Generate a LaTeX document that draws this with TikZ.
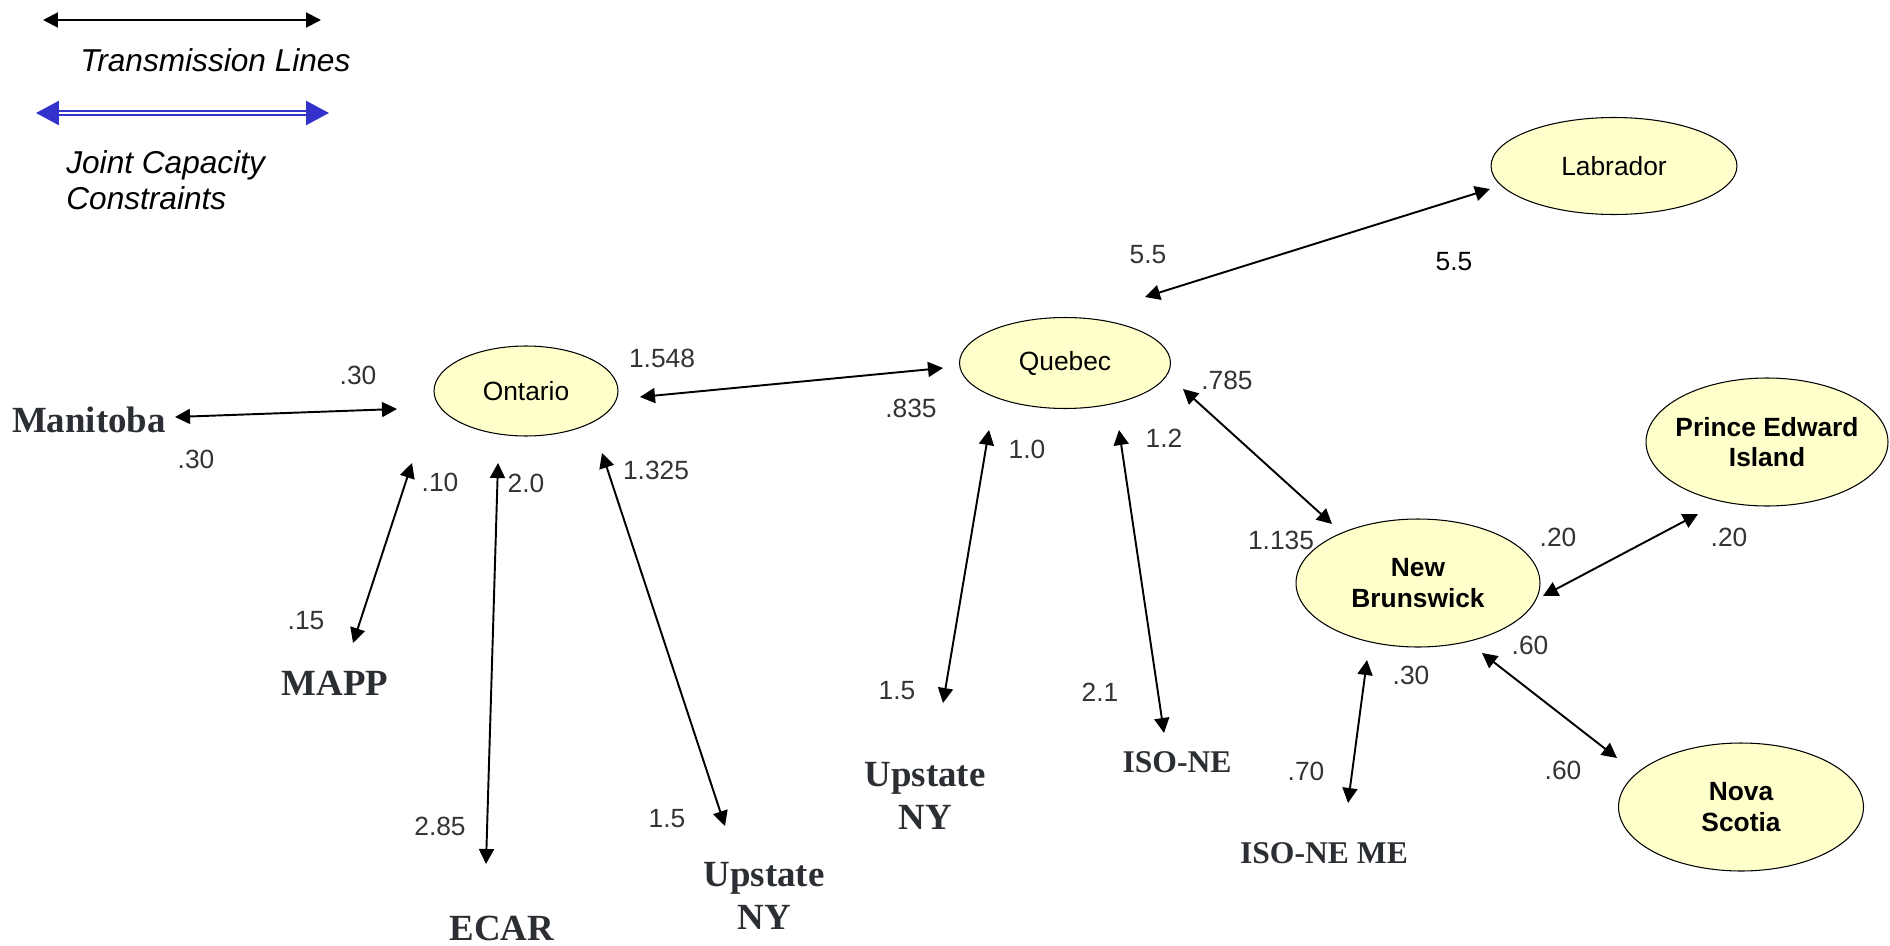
\documentclass[tikz,border=0pt]{standalone}
\usepackage{fontspec}
\setmainfont{Liberation Sans}
\newfontfamily\placefont{Liberation Serif}
\usetikzlibrary{arrows.meta,calc,shapes.geometric}
\definecolor{nodefill}{HTML}{FFFFCC}
\definecolor{numgray}{HTML}{333333}
\definecolor{placegray}{HTML}{2B2F33}
\definecolor{jointblue}{HTML}{3333CC}
\tikzset{
  region/.style={ellipse, draw=black, line width=0.6pt, fill=nodefill, inner sep=0pt,
    align=center, font=\fontsize{15}{17.5}\selectfont},
  num/.style={inner sep=0pt, text=numgray, font=\fontsize{15}{18}\selectfont},
  place/.style={inner sep=0pt, align=center, text=placegray,
    font=\placefont\bfseries\fontsize{21}{24.5}\selectfont},
  legend/.style={inner sep=0pt, font=\itshape\fontsize{18}{20.5}\selectfont},
  link/.style={line width=1.1pt,
    {Triangle[length=0.3cm,width=0.3cm]}-{Triangle[length=0.3cm,width=0.3cm]}},
}

\begin{document}
\begin{tikzpicture}[x=0.02cm, y=-0.02cm]
	\useasboundingbox (0,0) rectangle (1890,946);
	
	%%%%% legend %%%%%
	\coordinate (tl a) at (43,20);
	\coordinate (tl b) at (321,20);
	\draw[link] (tl a) -- (tl b);
	\node[legend, anchor=west] (tl text) at (80,60) {Transmission Lines};
	
	\coordinate (jc a) at (36,113);
	\coordinate (jc b) at (329,113);
	\draw[jointblue, line width=1.4pt, double=white, double distance=1.1pt,
		{Triangle[length=0.46cm,width=0.48cm]}-{Triangle[length=0.46cm,width=0.48cm]}] (jc a) -- (jc b);
	\node[legend, anchor=west, align=left] (jc text) at (66,180) {Joint Capacity\\Constraints};
	
	%%%%% regions %%%%%
	\node[region, minimum width=4.92cm, minimum height=1.94cm] (lab) at (1614,166) {Labrador};
	\node[region, minimum width=4.22cm, minimum height=1.82cm] (que) at (1065,363) {Quebec};
	\node[region, minimum width=3.68cm, minimum height=1.80cm] (ont) at (526,391) {Ontario};
	\node[region, minimum width=4.88cm, minimum height=2.56cm, font=\bfseries\fontsize{15}{17.5}\selectfont] (nb) at (1418,583) {New\\Brunswick};
	\node[region, minimum width=4.84cm, minimum height=2.56cm, inner xsep=-0.15cm, font=\bfseries\fontsize{15}{17.5}\selectfont] (pei) at (1767,442) {Prince Edward\\Island};
	\node[region, minimum width=4.90cm, minimum height=2.56cm, font=\bfseries\fontsize{15}{17.5}\selectfont] (ns) at (1741,807) {Nova\\Scotia};
	
	\node[place] (man) at (89,420) {Manitoba};
	\node[place] (mapp) at (335,683) {MAPP};
	\node[place] (ecar) at (502,928) {ECAR};
	\node[place] (ny ont) at (764,896) {Upstate\\NY};
	\node[place] (ny que) at (925,796) {Upstate\\NY};
	\node[place, font=\placefont\bfseries\fontsize{18}{21}\selectfont] (isone) at (1177,762) {ISO-NE};
	\node[place, font=\placefont\bfseries\fontsize{18}{21}\selectfont] (isone me) at (1324,853) {ISO-NE ME};
	
	%%%%% lines %%%%%
	\draw[link] ($(man)+(86,-3)$) -- ($(ont)+(-129,18)$);
	\draw[link] ($(ont)+(114,6)$) -- ($(que)+(-122,5)$);
	\draw[link] ($(que)+(80,-66)$) -- ($(lab)+(-124,23)$);
	\draw[link] ($(ont)+(-114,72)$) -- ($(mapp)+(18,-40)$);
	\draw[link] ($(ont)+(-28,72)$) -- ($(ecar)+(-16,-64)$);
	\draw[link] ($(ont)+(76,62)$) -- ($(ny ont)+(-39,-70)$);
	\draw[link] ($(que)+(-76,67)$) -- ($(ny que)+(18,-93)$);
	\draw[link] ($(que)+(54,67)$) -- ($(isone)+(-13,-29)$);
	\draw[link] ($(que)+(118,26)$) -- ($(nb)+(-86,-59)$);
	\draw[link] ($(nb)+(125,13)$) -- ($(pei)+(-69,72)$);
	\draw[link] ($(nb)+(-51,77)$) -- ($(isone me)+(24,-50)$);
	\draw[link] ($(nb)+(64,70)$) -- ($(ns)+(-124,-49)$);
	
	%%%%% capacities %%%%%
	\node[num] (man ont a) at (358,375) {.30};
	\node[num] (man ont b) at (196,459) {.30};
	\node[num] (ont que a) at (662,358) {1.548};
	\node[num] (ont que b) at (911,408) {.835};
	\node[num] (que lab a) at (1148,255) {5.5};
	\node[num, text=black] (que lab b) at (1454,262) {5.5};
	\node[num] (ont mapp a) at (440,482) {.10};
	\node[num] (ont mapp b) at (306,621) {.15};
	\node[num] (ont ecar a) at (526,483) {2.0};
	\node[num] (ont ecar b) at (440,826) {2.85};
	\node[num] (ont ny a) at (656,470) {1.325};
	\node[num] (ont ny b) at (667,819) {1.5};
	\node[num] (que ny a) at (1027,449) {1.0};
	\node[num] (que ny b) at (897,691) {1.5};
	\node[num] (que ne a) at (1164,438) {1.2};
	\node[num] (que ne b) at (1100,692) {2.1};
	\node[num] (que nb a) at (1227,380) {.785};
	\node[num] (que nb b) at (1281,540) {1.135};
	\node[num] (nb pei a) at (1558,537) {.20};
	\node[num] (nb pei b) at (1729,537) {.20};
	\node[num] (nb me a) at (1411,675) {.30};
	\node[num] (nb me b) at (1306,771) {.70};
	\node[num] (nb ns a) at (1530,645) {.60};
	\node[num] (nb ns b) at (1563,770) {.60};
	
\end{tikzpicture}
\end{document}
